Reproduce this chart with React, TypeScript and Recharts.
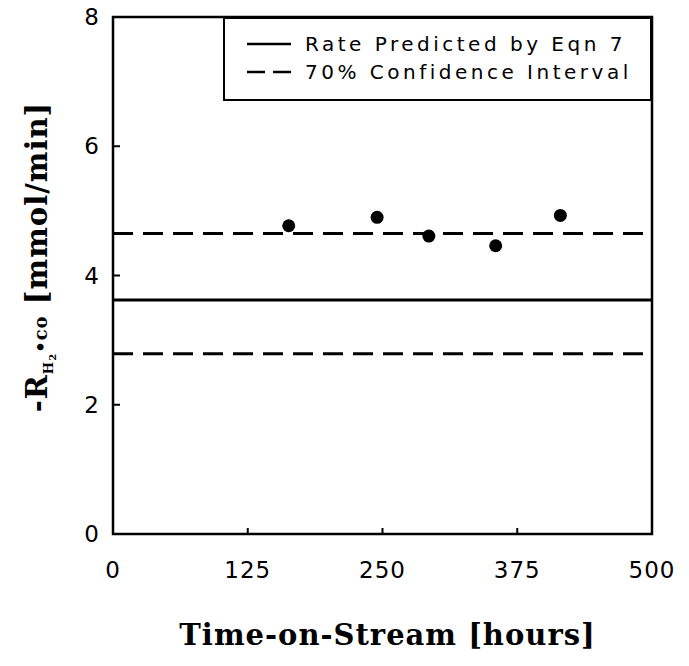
import React from 'react';
import {
  ComposedChart,
  Line,
  Scatter,
  XAxis,
  YAxis,
  ReferenceArea,
  Legend,
  Label,
} from 'recharts';

// time-on-stream [hours] for the model lines
const lineHours = [0, 500];
const ratePredicted = [3.62, 3.62];
const upperBound = [4.65, 4.65];
const lowerBound = [2.79, 2.79];

// measured rates
const obsHours = [163, 245, 293, 355, 415];
const obsRate = [4.77, 4.9, 4.61, 4.46, 4.93];

const xTicks = [0, 125, 250, 375, 500];
const yTicks = [0, 2, 4, 6, 8];

const legendItems = ['Rate Predicted by Eqn 7', '70% Confidence Interval'];

const lineData = lineHours.map((h, i) => ({
  hours: h,
  rate: ratePredicted[i],
  upper: upperBound[i],
  lower: lowerBound[i],
}));
const obsData = obsHours.map((h, i) => ({ hours: h, obs: obsRate[i] }));

const tickFont = { fontFamily: 'DejaVu Sans', fontSize: 23, letterSpacing: 1 };
const titleFont = { fontFamily: 'DejaVu Serif', fontWeight: 700 as const };

const XTick = (props: any) => {
  const { x, y, payload } = props;
  const v = payload.value;
  return (
    <g>
      {v > 0 && v < 500 && (
        <line x1={x} x2={x} y1={y} y2={y - 6} stroke="#000" strokeWidth={2} />
      )}
      <text x={x} y={y + 44} textAnchor="middle" fill="#000" style={tickFont}>
        {v}
      </text>
    </g>
  );
};

const YTick = (props: any) => {
  const { x, y, payload } = props;
  const v = payload.value;
  return (
    <g>
      {v > 0 && v < 8 && (
        <line x1={x} x2={x + 7} y1={y} y2={y} stroke="#000" strokeWidth={2} />
      )}
      <text x={x - 13} y={y + 8} textAnchor="end" fill="#000" style={tickFont}>
        {v}
      </text>
    </g>
  );
};

const XTitle = (props: any) => {
  const { x, y, width } = props.viewBox;
  return (
    <text
      x={x + width / 2 + 5}
      y={y + 111}
      textAnchor="middle"
      fill="#000"
      style={{ ...titleFont, fontSize: 29, letterSpacing: 1 }}
    >
      Time-on-Stream [hours]
    </text>
  );
};

const YTitle = (props: any) => {
  const { y } = props.viewBox;
  const cx = 47;
  const cy = y + 240;
  return (
    <text
      x={cx}
      y={cy}
      transform={`rotate(-90 ${cx} ${cy})`}
      textAnchor="middle"
      fill="#000"
      style={{ ...titleFont, fontSize: 29, letterSpacing: 1 }}
    >
      <tspan>-R</tspan>
      <tspan dy={6} fontSize={13}>H</tspan>
      <tspan dy={3} fontSize={10}>2</tspan>
      <tspan dy={-9} fontSize={18}>•co</tspan>
      <tspan dy={0}> [mmol/min]</tspan>
    </text>
  );
};

const LegendBox = () => (
  <div
    style={{
      position: 'relative',
      width: 429,
      height: 84,
      boxSizing: 'border-box',
      border: '2.5px solid #000',
      background: '#fff',
      fontFamily: 'DejaVu Sans',
      fontSize: 20,
      letterSpacing: 3.5,
      color: '#000',
    }}
  >
    {legendItems.map((name, i) => (
      <div
        key={name}
        style={{
          position: 'absolute',
          left: 20,
          top: 12 + i * 28,
          height: 26,
          display: 'flex',
          alignItems: 'center',
          whiteSpace: 'nowrap',
        }}
      >
        <svg width={48} height={10} style={{ marginRight: 12 }}>
          <line
            x1={2}
            x2={46}
            y1={5}
            y2={5}
            stroke="#000"
            strokeWidth={2.5}
            strokeDasharray={i === 0 ? undefined : '18 8'}
          />
        </svg>
        <span>{name}</span>
      </div>
    ))}
  </div>
);

const App = () => {
  return (
    <div style={{ position: 'absolute', left: 0, top: 0, background: '#fff' }}>
      <ComposedChart
        width={689}
        height={666}
        data={lineData}
        margin={{ top: 17, right: 37, left: 53, bottom: 72 }}
      >
        <XAxis
          type="number"
          dataKey="hours"
          domain={[0, 500]}
          ticks={xTicks}
          interval={0}
          axisLine={false}
          tickLine={false}
          tickSize={0}
          tickMargin={0}
          tick={<XTick />}
          height={60}
        >
          <Label content={<XTitle />} />
        </XAxis>
        <YAxis
          type="number"
          domain={[0, 8]}
          ticks={yTicks}
          interval={0}
          axisLine={false}
          tickLine={false}
          tickSize={0}
          tickMargin={0}
          tick={<YTick />}
          width={60}
        >
          <Label content={<YTitle />} />
        </YAxis>
        <ReferenceArea
          x1={0}
          x2={500}
          y1={0}
          y2={8}
          fill="none"
          stroke="#000"
          strokeWidth={2.5}
          ifOverflow="visible"
        />
        <Line
          dataKey="upper"
          type="linear"
          stroke="#000"
          strokeWidth={3}
          strokeDasharray="20 10"
          dot={false}
          activeDot={false}
          isAnimationActive={false}
        />
        <Line
          dataKey="rate"
          type="linear"
          stroke="#000"
          strokeWidth={3}
          dot={false}
          activeDot={false}
          isAnimationActive={false}
        />
        <Line
          dataKey="lower"
          type="linear"
          stroke="#000"
          strokeWidth={3}
          strokeDasharray="20 10"
          dot={false}
          activeDot={false}
          isAnimationActive={false}
        />
        <Scatter
          data={obsData}
          dataKey="obs"
          fill="#000"
          isAnimationActive={false}
          shape={(p: any) => <circle cx={p.cx} cy={p.cy} r={6.5} fill="#000" />}
        />
        <Legend
          layout="horizontal"
          verticalAlign="middle"
          align="center"
          content={<LegendBox />}
          wrapperStyle={{ position: 'absolute', left: 223, top: 17, width: 429, height: 84, margin: 0 }}
        />
      </ComposedChart>
    </div>
  );
};

export default App;
